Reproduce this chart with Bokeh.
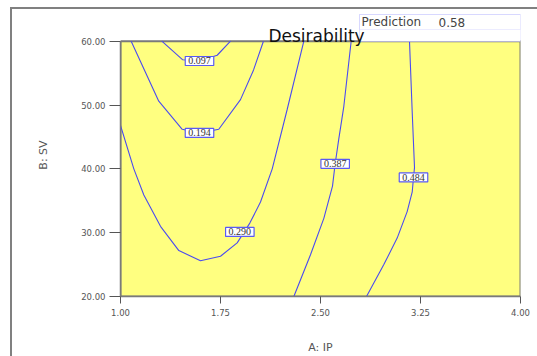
from bokeh.plotting import figure
from bokeh.layouts import column
from bokeh.models import Range1d, FixedTicker, Label, BoxAnnotation
from bokeh.embed import file_html
from bokeh.resources import INLINE

# Axis ticks
x_ticks = [1.00, 1.75, 2.50, 3.25, 4.00]
x_tick_labels = ["1.00", "1.75", "2.50", "3.25", "4.00"]
y_ticks = [20, 30, 40, 50, 60]
y_tick_labels = ["20.00", "30.00", "40.00", "50.00", "60.00"]

# Design space
ip_min, ip_max = 1.0, 4.0
sv_min, sv_max = 20.0, 60.0

# Desirability contour levels and their traced paths (A: IP, B: SV)
levels = ["0.097", "0.194", "0.290", "0.387", "0.484"]

c097_x = [1.31, 1.465, 1.5925, 1.725, 1.825]
c097_y = [60.0, 57.1, 56.9, 57.8, 60.0]

c194_x = [1.08, 1.287, 1.463, 1.5925, 1.737, 1.90, 1.998, 2.072]
c194_y = [60.0, 50.6, 46.2, 45.6, 46.2, 50.85, 55.5, 60.0]

c290_x = [1.0, 1.1, 1.175, 1.30, 1.4375, 1.60, 1.75, 1.875, 1.97, 2.05, 2.138, 2.25, 2.375]
c290_y = [46.8, 40.0, 35.9, 31.0, 27.2, 25.6, 26.3, 28.4, 31.5, 34.8, 40.0, 49.3, 60.0]

c387_x = [2.73, 2.675, 2.637, 2.61, 2.59, 2.525, 2.425, 2.30]
c387_y = [60.0, 49.8, 44.65, 40.8, 37.3, 32.25, 26.55, 20.0]

c484_x = [3.1675, 3.188, 3.205, 3.1975, 3.188, 3.15, 3.075, 2.975, 2.845]
c484_y = [60.0, 48.8, 40.2, 38.65, 36.4, 33.3, 29.15, 25.0, 20.0]

# Where each level's value is written on its contour
label_x = [1.5925, 1.5925, 1.895, 2.61, 3.1975]
label_y = [56.9, 45.63, 30.12, 40.78, 38.65]

prediction = 0.58

FONT = "DejaVu Sans"
LINE = "#4b4bf0"
FRAME = "#7a7a7a"

# The plotting frame reaches 28 px above the top of the design space so the
# title and the prediction read-out can sit inside it, above the contours.
frame_h = 286           # px, canvas top of frame to x-axis
space_h = 258           # px, height of the design space
y_top = sv_min + (sv_max - sv_min) * frame_h / space_h

p = figure(width=525, height=347, output_backend="svg", toolbar_location=None,
           title_location=None,
           x_range=Range1d(ip_min, ip_max), y_range=Range1d(sv_min, y_top),
           min_border_left=108, min_border_right=17,
           min_border_top=4, min_border_bottom=57)

p.background_fill_color = "white"
p.border_fill_color = "white"
p.outline_line_color = None
p.grid.visible = False

for ax, ticks, labels in ((p.xaxis[0], x_ticks, x_tick_labels),
                          (p.yaxis[0], y_ticks, y_tick_labels)):
    ax.ticker = FixedTicker(ticks=ticks)
    ax.major_label_overrides = {t: l for t, l in zip(ticks, labels)}
    ax.minor_tick_line_color = None
    ax.major_tick_in = 0
    ax.axis_line_color = FRAME
    ax.axis_line_width = 1.5
    ax.major_tick_line_color = "#555555"
    ax.major_label_text_font = FONT
    ax.major_label_text_font_size = "8.5px"
    ax.major_label_text_color = "#555555"
    ax.axis_label_text_font = FONT
    ax.axis_label_text_font_size = "11px"
    ax.axis_label_text_font_style = "normal"
    ax.axis_label_text_color = "#555555"

p.yaxis.bounds = (sv_min, sv_max)

p.xaxis.axis_label = "A: IP"
p.xaxis.major_tick_out = 7
p.xaxis.major_label_standoff = 5
p.xaxis.axis_label_standoff = 22

p.yaxis.axis_label = "B: SV"
p.yaxis.major_tick_out = 11
p.yaxis.major_label_standoff = 4
p.yaxis.axis_label_standoff = 28

# Design space background
p.quad(left=ip_min, right=ip_max, bottom=sv_min, top=sv_max,
       fill_color="#FFFF80", line_color=FRAME, line_width=2)

# Contour lines
for xs, ys in ((c097_x, c097_y), (c194_x, c194_y), (c290_x, c290_y),
               (c387_x, c387_y), (c484_x, c484_y)):
    p.line(xs, ys, line_color=LINE, line_width=1.1)

# Boxed contour values
p.text(x=label_x, y=label_y, text=levels,
       text_align="center", text_baseline="middle",
       text_font=FONT, text_font_size="10px", text_color="#333333",
       background_fill_color="white", border_line_color="#5a5af5",
       border_line_width=1.2, padding=dict(x=3, y=1))

# Prediction read-out box
p.add_layout(BoxAnnotation(left=347, right=508, top=5, bottom=32,
                           left_units="canvas", right_units="canvas",
                           top_units="canvas", bottom_units="canvas",
                           fill_color="white", fill_alpha=1,
                           line_color="#a0a0ff", line_width=1))
p.add_layout(BoxAnnotation(left=347, right=508, top=5, bottom=20,
                           left_units="canvas", right_units="canvas",
                           top_units="canvas", bottom_units="canvas",
                           fill_alpha=0, line_color="#c0c0ff", line_width=1))
p.add_layout(Label(x=349, y=12.5, x_units="canvas", y_units="canvas",
                   text="Prediction",
                   text_font=FONT, text_font_size="12px", text_color="#444444",
                   text_baseline="middle", text_align="left"))
p.add_layout(Label(x=426, y=12.5, x_units="canvas", y_units="canvas",
                   text=f"{prediction:.2f}",
                   text_font=FONT, text_font_size="12px", text_color="#444444",
                   text_baseline="middle", text_align="left"))

# Title, drawn over the read-out box
p.add_layout(Label(x=(ip_min + ip_max) / 2, y=sv_max, y_offset=5, x_offset=-4,
                   text="Desirability", text_align="center",
                   text_baseline="alphabetic", text_font=FONT,
                   text_font_size="17px", text_color="#111111"))

# Outer panel border
page = column(p, margin=(7, 0, 0, 10),
              styles={"border-left": "2px solid #808080",
                      "border-top": "2px solid #808080"})

open("out.html", "w").write(file_html(page, INLINE))
